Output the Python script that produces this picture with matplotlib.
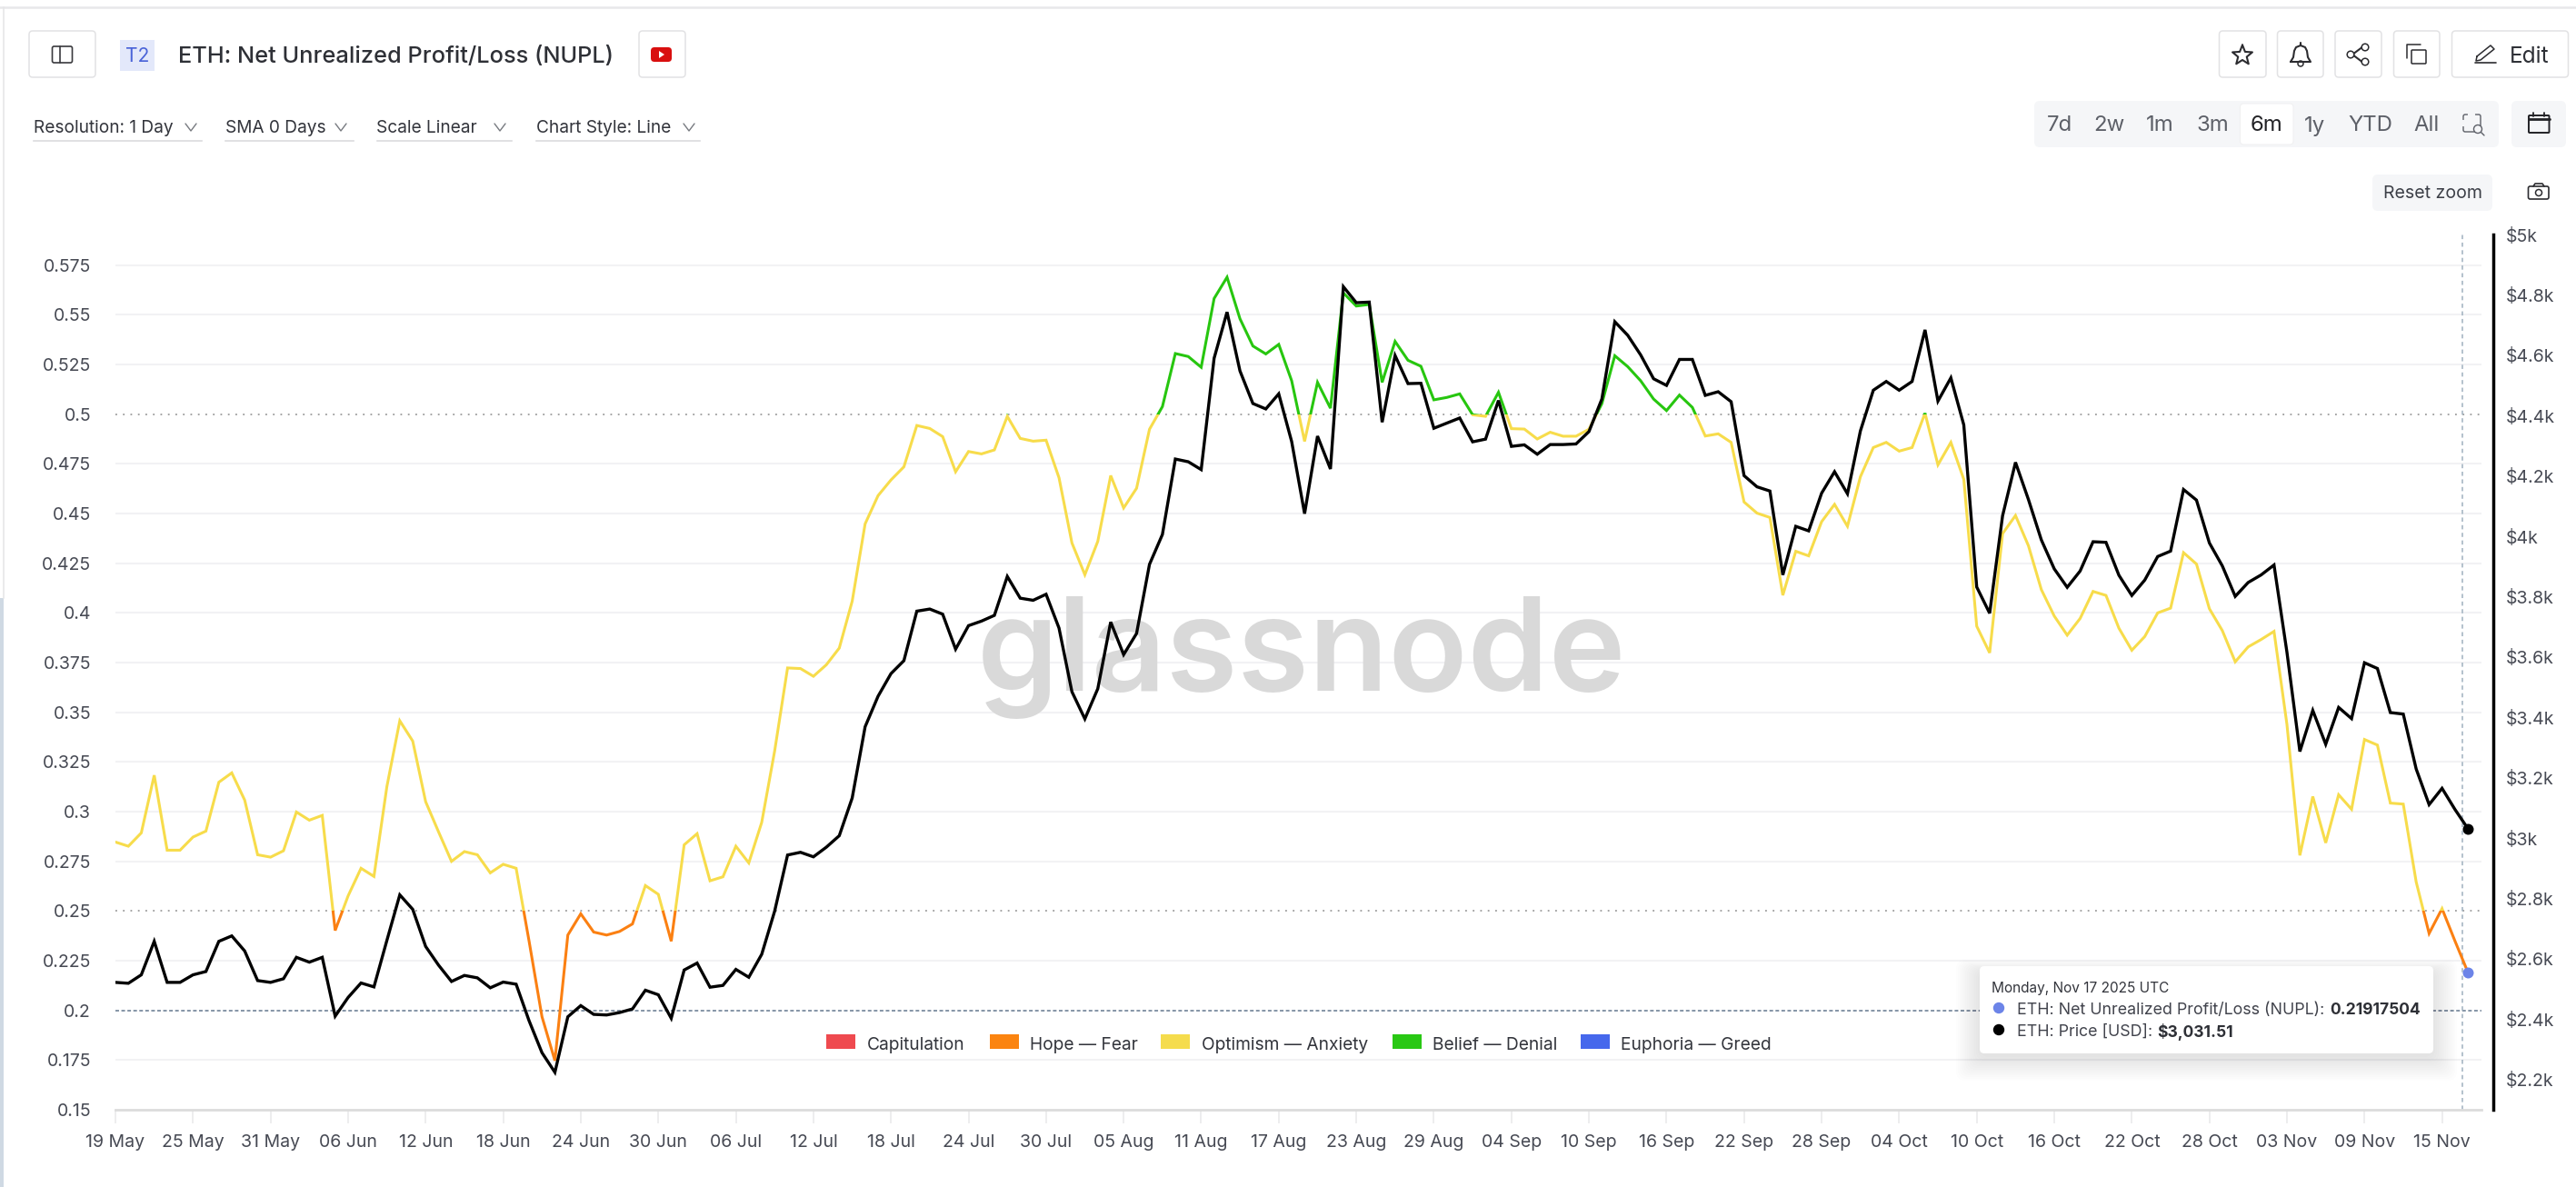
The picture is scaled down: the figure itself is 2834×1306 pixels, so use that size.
import numpy as np
import pandas as pd
import matplotlib
matplotlib.use("Agg")
import matplotlib.pyplot as plt
from matplotlib.patches import FancyBboxPatch, Rectangle, Circle, Polygon

plt.rcParams["font.family"] = ["Inter", "DejaVu Sans"]

W, H = 2834, 1306

# daily values, 19 May - 17 Nov 2025
nupl = [.2847, .2826, .2893, .3183, .2806, .2806, .2872, .2902, .3148, .3195,
        .3058, .2783, .2771, .2803, .2998, .2957, .2981, .2402, .2576, .2715,
        .2674, .3126, .3457, .3355, .3050, .2898, .2750, .2799, .2783, .2692,
        .2735, .2715, .2349, .1968, .1747, .2379, .2486, .2394, .2379, .2397,
        .2435, .2628, .2584, .2348, .2833, .2889, .2652, .2672, .2826, .2742,
        .2946, .3305, .3723, .3720, .3681, .3739, .3823, .4059, .4448, .4590,
        .4669, .4735, .4943, .4928, .4887, .4710, .4812, .4800, .4820, .4989,
        .4878, .4864, .4869, .4680, .4352, .4192, .4360, .4691, .4528, .4627,
        .4924, .5038, .5305, .5290, .5236, .5582, .5689, .5480, .5343, .5303,
        .5351, .5168, .4863, .5160, .5030, .5610, .5544, .5552, .5160, .5366,
        .5271, .5241, .5072, .5084, .5102, .4997, .4989, .5110, .4927, .4925,
        .4875, .4909, .4889, .4889, .4924, .5053, .5294, .5239, .5168, .5076,
        .5018, .5096, .5034, .4890, .4901, .4858, .4558, .4502, .4480, .4089,
        .4310, .4287, .4459, .4546, .4436, .4685, .4832, .4858, .4814, .4832,
        .5005, .4745, .4858, .4672, .3933, .3799, .4399, .4490, .4338, .4117,
        .3984, .3888, .3972, .4108, .4088, .3923, .3812, .3881, .4000, .4024,
        .4303, .4246, .4021, .3911, .3754, .3829, .3866, .3907, .3439, .2780,
        .3076, .2843, .3085, .3012, .3363, .3335, .3043, .3038, .2646, .2387,
        .2512, .2349, .21917504]
price = [2522, 2519, 2547, 2658, 2522, 2522, 2547, 2558, 2658, 2676,
         2626, 2528, 2522, 2534, 2605, 2589, 2605, 2410, 2472, 2520,
         2507, 2661, 2812, 2764, 2641, 2579, 2525, 2545, 2537, 2504,
         2523, 2516, 2395, 2289, 2224, 2408, 2445, 2416, 2414, 2422,
         2434, 2496, 2481, 2403, 2563, 2586, 2506, 2512, 2565, 2539,
         2615, 2758, 2944, 2953, 2938, 2970, 3008, 3133, 3369, 3470,
         3545, 3588, 3752, 3759, 3742, 3626, 3704, 3719, 3738, 3867,
         3795, 3788, 3808, 3696, 3485, 3395, 3495, 3716, 3608, 3678,
         3907, 4006, 4256, 4247, 4221, 4590, 4743, 4548, 4440, 4422,
         4472, 4314, 4075, 4332, 4223, 4827, 4774, 4776, 4378, 4599,
         4506, 4507, 4358, 4375, 4392, 4313, 4322, 4450, 4298, 4303,
         4272, 4304, 4304, 4306, 4347, 4455, 4711, 4666, 4601, 4522,
         4500, 4586, 4586, 4467, 4479, 4446, 4201, 4164, 4150, 3872,
         4033, 4018, 4143, 4214, 4141, 4349, 4484, 4513, 4484, 4513,
         4684, 4448, 4525, 4369, 3832, 3745, 4068, 4245, 4122, 3988,
         3892, 3831, 3885, 3982, 3980, 3871, 3804, 3855, 3933, 3951,
         4155, 4120, 3978, 3902, 3801, 3847, 3872, 3905, 3616, 3287,
         3423, 3311, 3433, 3396, 3581, 3562, 3416, 3411, 3229, 3111,
         3165, 3095, 3031.51]
dates = pd.date_range("2025-05-19", periods=len(nupl))

nupl_ticks = [.15, .175, .2, .225, .25, .275, .3, .325, .35, .375, .4, .425, .45, .475, .5, .525, .55, .575]
nupl_labels = ["0.15", "0.175", "0.2", "0.225", "0.25", "0.275", "0.3", "0.325", "0.35", "0.375",
               "0.4", "0.425", "0.45", "0.475", "0.5", "0.525", "0.55", "0.575"]
price_ticks = [2200, 2400, 2600, 2800, 3000, 3200, 3400, 3600, 3800, 4000, 4200, 4400, 4600, 4800, 5000]
price_labels = ["$2.2k", "$2.4k", "$2.6k", "$2.8k", "$3k", "$3.2k", "$3.4k", "$3.6k", "$3.8k",
                "$4k", "$4.2k", "$4.4k", "$4.6k", "$4.8k", "$5k"]

band_names = ["Capitulation", "Hope — Fear", "Optimism — Anxiety", "Belief — Denial", "Euphoria — Greed"]
band_edges = [-1, 0, .25, .5, .75, 2]
band_colors = ["#ef4a4f", "#fb8012", "#f7dc4b", "#27c60f", "#4668ec"]
swatch_colors = ["#ef4a4f", "#fb8410", "#f5dc4d", "#29c814", "#4668ec"]


def px(n):
    return n * 0.72


# page layer in pixel coordinates
fig = plt.figure(figsize=(W / 100, H / 100), dpi=100, facecolor="white")
ui = fig.add_axes([0, 0, 1, 1], zorder=0)
ui.set_xlim(0, W); ui.set_ylim(H, 0); ui.axis("off")
top = fig.add_axes([0, 0, 1, 1], zorder=10)
top.set_xlim(0, W); top.set_ylim(H, 0); top.axis("off"); top.patch.set_alpha(0)


def box(x0, y0, x1, y1, fc="white", ec="#e2e2e4", r=4, a=ui, lw=1.1, alpha=None, z=2):
    a.add_patch(FancyBboxPatch((x0, y0), x1 - x0, y1 - y0, boxstyle=f"round,pad=0,rounding_size={r}",
                               fc=fc, ec=ec, lw=lw, alpha=alpha, zorder=z))


def txt(x, y, s, size=21, color="#33353c", ha="left", weight="normal", a=ui, **kw):
    # +2.5: va=center sits a little high against the ink centres
    return a.text(x, y + 2.5, s, fontsize=px(size), color=color, ha=ha, va="center", fontweight=weight, zorder=5, **kw)


def stroke(xs, ys, color="#2c2c30", lw=1.5, **kw):
    ui.plot(xs, ys, color=color, lw=lw, solid_capstyle="round", solid_joinstyle="round", zorder=5, **kw)


def chevron(x, y):
    stroke([x - 6, x, x + 6], [y - 4, y + 4, y - 4], color="#777a80", lw=1.0)


# page frame
ui.plot([0, W], [8, 8], color="#e8e8ea", lw=1.8)
ui.plot([4, 4], [8, 658], color="#e6e6e8", lw=1.2)
ui.add_patch(Rectangle((0, 658), 4, H - 658, fc="#cfd9e3", ec="none"))

# header left
box(32, 34, 105, 85)
box(57.5, 51, 79.5, 69, fc="none", ec="#3a3a3e", r=2, lw=1.2)
stroke([66, 66], [51, 69], color="#3a3a3e", lw=1.2)
ui.add_patch(Rectangle((132, 44), 38, 34, fc="#e3e8fa", ec="none"))
txt(151, 60, "T2", size=21, color="#4a63d8", ha="center")
txt(196, 60, "ETH: Net Unrealized Profit/Loss (NUPL)", size=25.4, color="#2e3036", weight="medium")
box(703, 34, 754, 85)
box(716, 52, 739, 68, fc="#d90f0f", ec="none", r=4)
ui.add_patch(Polygon([(725, 56), (725, 64), (731, 60)], fc="white", ec="none", zorder=6))

# dropdowns
for label, x0, x1, chev in [("Resolution: 1 Day", 37, 222, 210), ("SMA 0 Days", 248, 389, 375),
                            ("Scale Linear", 414.5, 563, 550), ("Chart Style: Line", 589.5, 770, 758)]:
    txt(x0, 138, label, size=19.1)
    chevron(chev, 140)
    ui.plot([x0, x1], [155, 155], color="#dcdcde", lw=1.2)

# header right
for x0, x1 in [(2441.5, 2493), (2505.5, 2556), (2569, 2620), (2633.5, 2684), (2697.5, 2825.5)]:
    box(x0, 34, x1, 85)
ang = np.linspace(np.pi / 2, np.pi / 2 + 2 * np.pi, 11)
rad = np.where(np.arange(11) % 2 == 0, 11.5, 5)
stroke(2467 + rad * np.cos(ang), 61 - rad * np.sin(ang))
# bell
stroke([2520, 2523, 2524, 2526, 2531, 2536, 2538, 2539, 2542, 2520],
       [68, 63, 56, 52, 50, 52, 56, 63, 68, 68])
stroke([2531, 2531], [47, 50])
ui.add_patch(Circle((2531, 70), 3, fc="none", ec="#2c2c30", lw=1.1, zorder=5))
# share
stroke([2600, 2588, 2600], [51, 60, 69])
for cx, cy in [(2602, 52), (2586, 60), (2602, 68)]:
    ui.add_patch(Circle((cx, cy), 3.8, fc="white", ec="#2c2c30", lw=1.1, zorder=6))
# copy
box(2653, 55, 2669, 70, fc="none", ec="#2c2c30", r=1, lw=1.1, z=5)
stroke([2648, 2648, 2663], [64, 49, 49], lw=1.1)
# pencil
stroke([2725, 2740, 2744, 2729, 2724, 2725], [62, 50, 54, 66, 67, 62], lw=1.1)
stroke([2723, 2746], [69, 69], lw=1.2)
txt(2761, 60, "Edit", size=24.5, color="#2e3036")

# range selector
box(2238, 111, 2749, 162, fc="#f5f6f8", ec="none", r=6)
box(2464.5, 114, 2523, 159, fc="white", ec="#eeeeef", r=4, lw=0.6, z=3)
for label, cx in [("7d", 2266), ("2w", 2320.5), ("1m", 2376.7), ("3m", 2434.5), ("6m", 2493.6),
                  ("1y", 2547), ("YTD", 2607.6), ("All", 2669.5)]:
    txt(cx, 136, label, size=24, ha="center", color="#222226" if label == "6m" else "#5d6068")
box(2710, 126, 2729, 145, fc="none", ec="#5d6068", r=2, lw=1.0, z=5)
ui.plot([2716, 2722], [126, 126], color="#f5f6f8", lw=1.5, zorder=6)
ui.plot([2710, 2710], [133, 138], color="#f5f6f8", lw=1.5, zorder=6)
ui.add_patch(Circle((2726, 142), 4.5, fc="#f5f6f8", ec="#5d6068", lw=1.0, zorder=7))
stroke([2729, 2733], [145, 149], color="#5d6068", lw=1.0)

box(2763, 111, 2823, 162, fc="#f5f6f8", ec="none", r=6)
box(2782, 127, 2804.5, 146, fc="none", ec="#222226", r=1, lw=1.4, z=5)
stroke([2782, 2804.5], [131, 131], color="#222226", lw=2)
stroke([2787, 2787], [124, 128], color="#222226", lw=1.3)
stroke([2799, 2799], [124, 128], color="#222226", lw=1.3)

box(2610, 192, 2742, 232, fc="#f5f6f8", ec="none", r=6)
txt(2676, 211, "Reset zoom", size=19.5, ha="center", color="#3c3f47")
box(2781.5, 205, 2804, 219, fc="none", ec="#2c2c30", r=2, lw=1.2, z=5)
stroke([2787, 2789, 2797, 2799], [205, 202, 202, 205], lw=1.2)
ui.add_patch(Circle((2793, 212), 3.5, fc="none", ec="#2c2c30", lw=1.1, zorder=5))

# chart
ax = fig.add_axes([127 / W, 1 - 1221 / H, (2730 - 127) / W, (1221 - 258) / H], zorder=2)
ax.patch.set_alpha(0)
ax.set_xlim(dates[0], dates[0] + pd.Timedelta(days=183.05))
ax.set_ylim(.15, .5904)
ax.set_yticks(nupl_ticks); ax.set_yticklabels(nupl_labels)
ax.set_xticks(dates[:181:6]); ax.set_xticklabels([d.strftime("%d %b") for d in dates[:181:6]])
for s in ["top", "left", "right"]:
    ax.spines[s].set_visible(False)
ax.spines["bottom"].set_color("#dcdcdc"); ax.spines["bottom"].set_linewidth(2)
ax.tick_params(axis="y", length=0, pad=px(27), labelsize=px(19.5), labelcolor="#474a54")
ax.tick_params(axis="x", length=px(15), width=1.1, color="#e8e8ea", pad=px(11.5), labelsize=px(19.5), labelcolor="#474a54")
for v in nupl_ticks:
    if v == .5 or v == .25:
        ax.axhline(v, color="#8c8c8c", lw=1.1, dashes=(1.2, 4.2), zorder=1)
    elif v == .2:
        ax.axhline(v, color="#64788e", lw=1.1, dashes=(2.6, 1.7), zorder=1)
    elif v > .15:
        ax.axhline(v, color="#f2f2f4", lw=1.5, zorder=1)

ax.text(1075, 760, "glassnode", transform=ui.transData, fontsize=px(143), color="#d9d9d9", fontweight="semibold",
        ha="left", va="baseline", zorder=1.5)

# NUPL line coloured by sentiment band
for lo, hi, col in zip(band_edges[:-1], band_edges[1:], band_colors):
    ln, = ax.plot(dates, nupl, color=col, lw=2.2, zorder=3, solid_joinstyle="miter")
    ln.set_clip_path(Rectangle((ax.get_xlim()[0], lo), ax.get_xlim()[1] - ax.get_xlim()[0], hi - lo, transform=ax.transData))
ax.plot(dates[-1], nupl[-1], "o", color="#6c84e8", ms=px(12), mew=0, zorder=4, clip_on=False)
ax.axvline(dates[-1] - pd.Timedelta(hours=11), color="#9fb0bf", lw=1.1, dashes=(3, 2.5), zorder=2)

ax2 = ax.twinx()
ax2.patch.set_alpha(0)
ax2.set_ylim(2100, 5000)
ax2.set_yticks(price_ticks); ax2.set_yticklabels(price_labels)
for s in ["top", "left", "bottom"]:
    ax2.spines[s].set_visible(False)
ax2.spines["right"].set_position(("outward", px(13)))
ax2.spines["right"].set_color("black"); ax2.spines["right"].set_linewidth(2.5)
ax2.tick_params(axis="y", length=0, pad=px(14), labelsize=px(19.5), labelcolor="#474a54")
ax2.plot(dates, price, color="black", lw=2.4, zorder=3, solid_joinstyle="miter")
ax2.plot(dates[-1], price[-1], "o", color="black", ms=px(12), mew=0, zorder=4, clip_on=False)

# legend
for name, col, x0, tx in zip(band_names, swatch_colors, [909, 1088.5, 1277, 1531.5, 1738.5],
                             [954, 1133, 1322.5, 1576, 1783]):
    ax.add_patch(Rectangle((x0, 1138), 32, 16, fc=col, ec="none", transform=ui.transData, zorder=5))
    ax.text(tx, 1150, name, transform=ui.transData, fontsize=px(19.2), color="#33353c", va="center", zorder=5)

# tooltip
for i in range(14):
    box(2178 - 2 * i, 1063 - i + 6, 2677 + 2 * i, 1159 + 2 * i + 4, fc="black", ec="none", r=10, a=top, alpha=.006, z=1)
box(2178, 1063, 2677, 1159, fc="white", ec="none", r=5, a=top, z=2)
txt(2191, 1085, "Monday, Nov 17 2025 UTC", size=15.4, color="#33353c", a=top)
top.add_patch(Circle((2199, 1109), 6.2, fc="#6c84e8", ec="none", zorder=5))
top.add_patch(Circle((2199, 1133), 6.2, fc="black", ec="none", zorder=5))
txt(2219, 1109, "ETH: Net Unrealized Profit/Loss (NUPL):", size=17.8, color="#41434c", a=top)
txt(2563, 1109, "0.21917504", size=17.5, color="#2e3036", weight="bold", a=top)
txt(2219, 1133, "ETH: Price [USD]:", size=17.8, color="#41434c", a=top)
txt(2373, 1133, "$3,031.51", size=17.5, color="#2e3036", weight="bold", a=top)

fig.savefig("out.png", dpi=100)
